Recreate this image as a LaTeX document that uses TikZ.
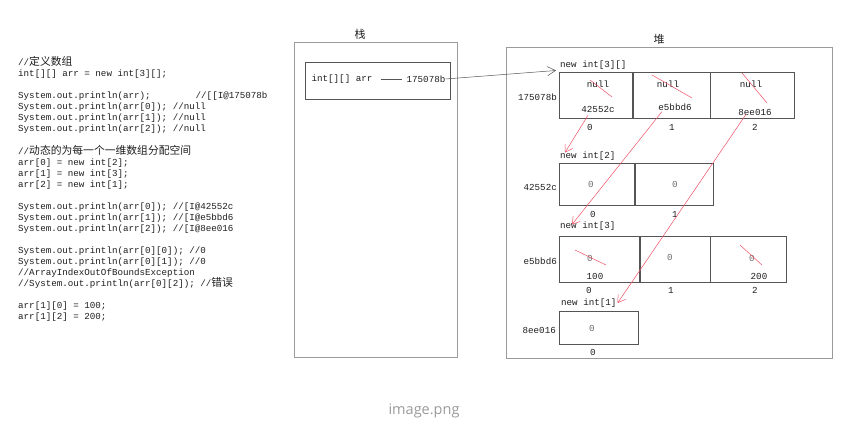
\documentclass[tikz,border=0pt]{standalone}
\usepackage{fontspec}
\setmonofont{Liberation Mono}
\setsansfont{Open Sans}
\newfontfamily\cjk{Noto Sans CJK SC}
\usetikzlibrary{arrows.meta,positioning}

\definecolor{framegray}{HTML}{9A9A9A}
\definecolor{linegray}{HTML}{555555}
\definecolor{textgray}{HTML}{1E1E1E}
\definecolor{valgray}{HTML}{6A6A6A}
\definecolor{strike}{HTML}{EE4F63}

\newcommand{\codefont}{\ttfamily\fontsize{9.2}{11}\selectfont}

\tikzset{
  frame/.style={draw=framegray, anchor=north west, inner sep=0pt, line width=0.7pt},
  cell/.style={draw=linegray, anchor=north west, inner sep=0pt, line width=0.6pt},
  lab/.style={inner sep=0pt, text=textgray, font=\codefont},
  val/.style={inner sep=0pt, text=valgray, font=\codefont},
  ptr/.style={draw=strike, line width=0.5pt, -{Straight Barb[length=7pt,width=9pt]}},
  link/.style={draw=linegray, line width=0.5pt, -{Straight Barb[length=8pt,width=9pt]}},
  cross/.style={draw=strike, line width=0.5pt}
}

\begin{document}
\begin{tikzpicture}[x=1pt, y=-1pt]
  \useasboundingbox (0,0) rectangle (854,427);

  % source code
  \node[lab, anchor=north west, align=left] (src) at (18,56) {%
//{\cjk\fontsize{10.8}{11}\selectfont 定义数组}\\
int[][] arr = new int[3][];\\[11pt]
System.out.println(arr);\hspace{45pt}//[[I@175078b\\
System.out.println(arr[0]); //null\\
System.out.println(arr[1]); //null\\
System.out.println(arr[2]); //null\\[11pt]
//{\cjk\fontsize{10.8}{11}\selectfont 动态的为每一个一维数组分配空间}\\
arr[0] = new int[2];\\
arr[1] = new int[3];\\
arr[2] = new int[1];\\[11pt]
System.out.println(arr[0]); //[I@42552c\\
System.out.println(arr[1]); //[I@e5bbd6\\
System.out.println(arr[2]); //[I@8ee016\\[11pt]
System.out.println(arr[0][0]); //0\\
System.out.println(arr[0][1]); //0\\
//ArrayIndexOutOfBoundsException\\
//System.out.println(arr[0][2]); //{\cjk\fontsize{10.8}{11}\selectfont 错误}\\[11pt]
arr[1][0] = 100;\\
arr[1][2] = 200;};

  % stack
  \node[frame, minimum width=163, minimum height=315] (stack) at (294,42) {};
  \node[lab, font=\cjk\fontsize{11}{12}\selectfont] (stacktitle) at (360,34) {栈};
  \node[cell, minimum width=145, minimum height=37] (slot) at (305,62) {};
  \node[lab] (var) at (342,79) {int[][] arr};
  \node[lab] (addr) at (426,79) {175078b};
  \draw[linegray, line width=0.5pt] ([xshift=8pt]var.east) -- ([xshift=-4pt]addr.west);

  % heap
  \node[frame, minimum width=326, minimum height=311] (heap) at (506,47) {};
  \node[lab, font=\cjk\fontsize{11}{12}\selectfont] (heaptitle) at (659,39) {堆};

  % new int[3][]
  \node[lab, anchor=west] (outerlbl) at (560,65) {new int[3][]};
  \node[lab, anchor=east] (outeraddr) at (557,97) {175078b};
  \node[cell, minimum width=73, minimum height=46] (o0) at (559,72) {};
  \node[cell, minimum width=77, minimum height=46] (o1) at (o0.north east) {};
  \node[cell, minimum width=84, minimum height=46] (o2) at (o1.north east) {};
  \node[lab] (on0) at (598,84) {null};
  \node[lab] (on1) at (668,84) {null};
  \node[lab] (on2) at (751,84) {null};
  \node[lab] (ov0) at (598,109) {42552c};
  \node[lab] (ov1) at (675,107) {e5bbd6};
  \node[lab] (ov2) at (755,112) {8ee016};
  \node[lab] (oi0) at (590,127) {0};
  \node[lab] (oi1) at (672,127) {1};
  \node[lab] (oi2) at (755,127) {2};
  \draw[cross] (590,80) -- (612,97);
  \draw[cross] (652,75) -- (692,98);
  \draw[cross] (742,73) -- (767,103);

  % new int[2]
  \node[lab, anchor=west] (albl) at (560,156) {new int[2]};
  \node[lab, anchor=east] (aaddr) at (557,187) {42552c};
  \node[cell, minimum width=75, minimum height=42] (a0) at (559,163) {};
  \node[cell, minimum width=78, minimum height=42] (a1) at (a0.north east) {};
  \node[val] (av0) at (591,184) {0};
  \node[val] (av1) at (675,184) {0};
  \node[lab] (ai0) at (593,214) {0};
  \node[lab] (ai1) at (675,214) {1};

  % new int[3]
  \node[lab, anchor=west] (blbl) at (560,226) {new int[3]};
  \node[lab, anchor=east] (baddr) at (557,261) {e5bbd6};
  \node[cell, minimum width=80, minimum height=46] (b0) at (559,236) {};
  \node[cell, minimum width=70, minimum height=46] (b1) at (b0.north east) {};
  \node[cell, minimum width=76, minimum height=46] (b2) at (b1.north east) {};
  \node[val] (bv0) at (590,258) {0};
  \node[val] (bv1) at (670,257) {0};
  \node[val] (bv2) at (752,258) {0};
  \node[lab] (bn0) at (595,276) {100};
  \node[lab] (bn2) at (759,276) {200};
  \node[lab] (bi0) at (589,290) {0};
  \node[lab] (bi1) at (671,290) {1};
  \node[lab] (bi2) at (755,290) {2};
  \draw[cross] (575,250) -- (606,265);
  \draw[cross] (740,245) -- (762,265);

  % new int[1]
  \node[lab, anchor=west] (clbl) at (561,303) {new int[1]};
  \node[lab, anchor=east] (caddr) at (556,330) {8ee016};
  \node[cell, minimum width=79, minimum height=33] (c0) at (559,311) {};
  \node[val] (cv0) at (592,328) {0};
  \node[lab] (ci0) at (593,352) {0};

  % references
  \draw[link] (addr.east) -- ([xshift=-4pt,yshift=-1pt]outerlbl.south west);
  \draw[ptr] ([xshift=-10pt,yshift=-3pt]ov0.south) -- ([xshift=5pt,yshift=-1pt]albl.north west);
  \draw[ptr] ([xshift=-13pt,yshift=-1pt]ov1.south) -- ([xshift=12pt,yshift=-3pt]blbl.north west);
  \draw[ptr] ([xshift=8pt,yshift=-2pt]ov2.west) -- ([xshift=1pt]clbl.east);

  \node[font=\sffamily\fontsize{14.5}{16}\selectfont, text=framegray] (caption) at (424,411) {image.png};
\end{tikzpicture}
\end{document}
